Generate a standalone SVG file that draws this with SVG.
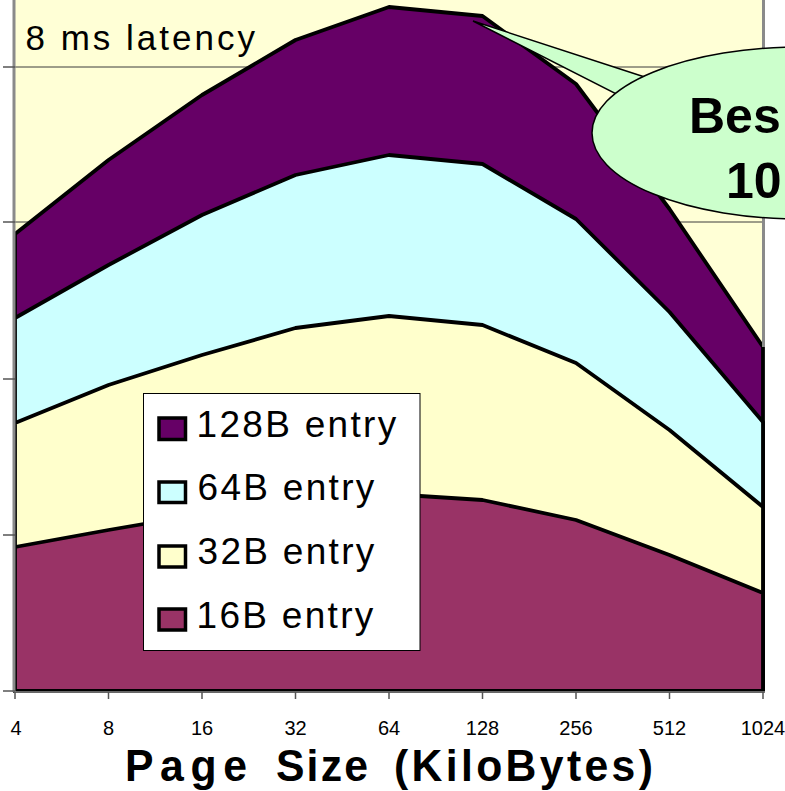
<svg xmlns="http://www.w3.org/2000/svg" width="785" height="791" viewBox="0 0 785 791">
  <style>
    .area { stroke: #000; stroke-width: 3.8; stroke-linejoin: round; }
    .grid { stroke: #3c3c3c; stroke-width: 1; }
    .tick { stroke: #555; stroke-width: 1.5; }
    .frame { stroke: #8a8a8a; stroke-width: 3; fill: none; }
    .lbl { font-family: "Liberation Sans", Arial, sans-serif; fill: #000; }
    .swatch { stroke: #000; stroke-width: 3.5; }
  </style>

  <!-- plot background -->
  <rect x="0" y="0" width="785" height="791" fill="#ffffff"/>
  <rect x="15" y="0" width="748" height="691" fill="#ffffd6"/>

  <!-- horizontal grid -->
  <g id="grid">
    <line class="grid" x1="15" y1="67" x2="763" y2="67"/>
    <line class="grid" x1="15" y1="222" x2="763" y2="222"/>
    <line class="grid" x1="15" y1="379" x2="763" y2="379"/>
    <line class="grid" x1="15" y1="535" x2="763" y2="535"/>
  </g>

  <!-- stacked areas, back to front -->
  <g id="series-128B">
    <polygon class="area" fill="#660066" points="15,234 108.5,160 202,95 295.5,40 389,7 482.5,16 576,84 669.5,209 763,347 763,691 15,691"/>
  </g>
  <g id="series-64B">
    <polygon class="area" fill="#ccffff" points="15,318 108.5,265 202,215 295.5,175 389,155 482.5,164 576,219 669.5,312 763,422 763,691 15,691"/>
  </g>
  <g id="series-32B">
    <polygon class="area" fill="#ffffcc" points="15,423 108.5,385 202,355 295.5,328 389,316 482.5,325 576,363 669.5,430 763,507 763,691 15,691"/>
  </g>
  <g id="series-16B">
    <polygon class="area" fill="#993366" points="15,547 108.5,530 202,514 295.5,502 389,494 482.5,500 576,520 669.5,555 763,593 763,691 15,691"/>
  </g>

  <!-- axes and ticks -->
  <g id="axes">
    <line class="frame" x1="14" y1="0" x2="14" y2="692"/>
    <line class="frame" x1="763.5" y1="0" x2="763.5" y2="347"/>
    <line x1="14" y1="692" x2="765" y2="692" stroke="#8a8a8a" stroke-width="1.5"/>
    <line class="tick" x1="3" y1="67" x2="15" y2="67"/>
    <line class="tick" x1="3" y1="222" x2="15" y2="222"/>
    <line class="tick" x1="3" y1="379" x2="15" y2="379"/>
    <line class="tick" x1="3" y1="535" x2="15" y2="535"/>
    <line class="tick" x1="3" y1="691" x2="15" y2="691"/>
    <line class="tick" x1="15" y1="692" x2="15" y2="699"/>
    <line class="tick" x1="108.5" y1="692" x2="108.5" y2="699"/>
    <line class="tick" x1="202" y1="692" x2="202" y2="699"/>
    <line class="tick" x1="295.5" y1="692" x2="295.5" y2="699"/>
    <line class="tick" x1="389" y1="692" x2="389" y2="699"/>
    <line class="tick" x1="482.5" y1="692" x2="482.5" y2="699"/>
    <line class="tick" x1="576" y1="692" x2="576" y2="699"/>
    <line class="tick" x1="669.5" y1="692" x2="669.5" y2="699"/>
    <line class="tick" x1="763" y1="692" x2="763" y2="699"/>
  </g>

  <!-- category labels -->
  <g id="x-labels" class="lbl" font-size="20" text-anchor="middle">
    <text x="16" y="735">4</text>
    <text x="108.5" y="735">8</text>
    <text x="202" y="735">16</text>
    <text x="295.5" y="735">32</text>
    <text x="389" y="735">64</text>
    <text x="482.5" y="735">128</text>
    <text x="576" y="735">256</text>
    <text x="669.5" y="735">512</text>
    <text x="763" y="735">1024</text>
  </g>

  <!-- axis title: slightly condensed bold face with open tracking -->
  <g id="x-title" class="lbl" transform="translate(0,781) scale(0.95,1)" font-size="45" font-weight="bold">
    <text x="131.6" y="0" textLength="128.4" lengthAdjust="spacing">Page</text>
    <text x="290.5" y="0" textLength="96.8" lengthAdjust="spacing">Size</text>
    <text x="414.7" y="0" textLength="272.6" lengthAdjust="spacing">(KiloBytes)</text>
  </g>

  <!-- annotation -->
  <g id="note">
    <text class="lbl" x="25.5" y="50" font-size="35" letter-spacing="3">8 ms latency</text>
  </g>

  <!-- legend -->
  <g id="legend">
    <rect x="143.5" y="393.5" width="276.5" height="257" fill="#ffffff" stroke="#000" stroke-width="1"/>
    <rect class="swatch" x="159" y="418" width="26.5" height="21.5" fill="#660066"/>
    <rect class="swatch" x="159" y="482" width="26.5" height="20.5" fill="#ccffff"/>
    <rect class="swatch" x="159" y="546" width="26.5" height="21" fill="#ffffcc"/>
    <rect class="swatch" x="159" y="609" width="26.5" height="21" fill="#993366"/>
    <g class="lbl" font-size="37" letter-spacing="2.3">
      <text x="196.5" y="437">128B entry</text>
      <text x="197.5" y="500">64B entry</text>
      <text x="197.5" y="564">32B entry</text>
      <text x="196.5" y="628">16B entry</text>
    </g>
  </g>

  <!-- callout bubble -->
  <g id="callout">
    <polygon points="473,21 660,82 628,100" fill="#ccffcc" stroke="#000" stroke-width="1.5" stroke-linejoin="miter"/>
    <ellipse cx="800" cy="133" rx="208" ry="86" fill="#ccffcc" stroke="#000" stroke-width="1.5"/>
    <text class="lbl" x="689" y="133" font-size="50" font-weight="bold">Bes</text>
    <text class="lbl" x="726" y="198" font-size="50" font-weight="bold">10</text>
  </g>
</svg>
